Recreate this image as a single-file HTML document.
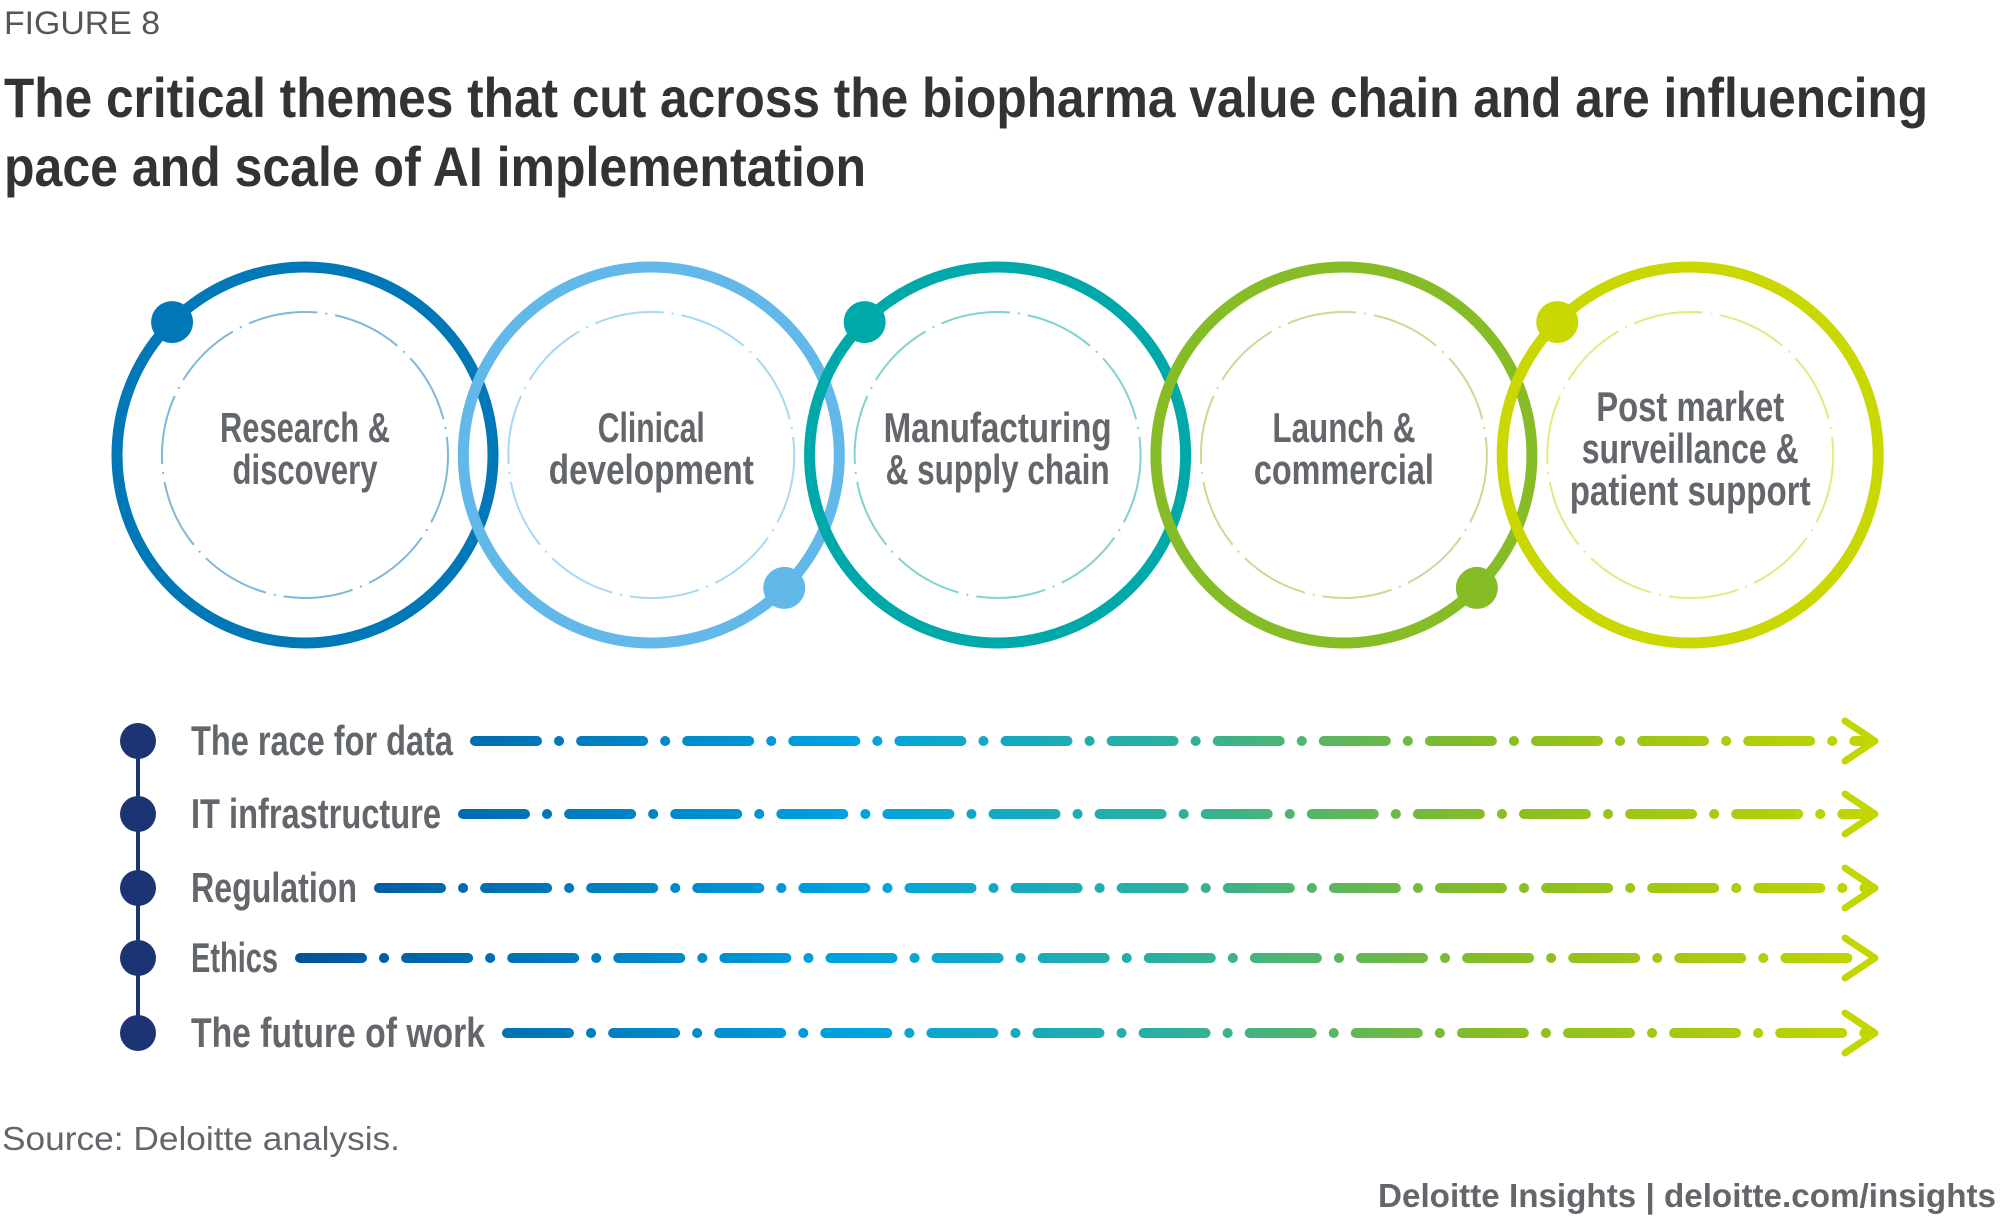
<!DOCTYPE html>
<html><head><meta charset="utf-8"><style>
html,body{margin:0;padding:0;background:#fff;}
svg{display:block;}
</style></head><body>
<svg id="chart" width="2000" height="1227" viewBox="0 0 2000 1227" xmlns="http://www.w3.org/2000/svg">
<defs>
<linearGradient id="lineGrad" gradientUnits="userSpaceOnUse" x1="300" y1="0" x2="1880" y2="0">
<stop offset="0" stop-color="#00539b"/>
<stop offset="0.35" stop-color="#00a3e0"/>
<stop offset="0.55" stop-color="#2bb0a0"/>
<stop offset="0.75" stop-color="#86bc25"/>
<stop offset="1" stop-color="#c4d600"/>
</linearGradient>
</defs>
<text x="4" y="34" font-family="Liberation Sans, sans-serif" font-size="32" fill="#53565a" textLength="156" lengthAdjust="spacingAndGlyphs">FIGURE 8</text>
<text x="4" y="117" font-family="Liberation Sans, sans-serif" font-weight="bold" font-size="56" fill="#333" textLength="1924" lengthAdjust="spacingAndGlyphs">The critical themes that cut across the biopharma value chain and are influencing</text>
<text x="4" y="186" font-family="Liberation Sans, sans-serif" font-weight="bold" font-size="56" fill="#333" textLength="862" lengthAdjust="spacingAndGlyphs">pace and scale of AI implementation</text>
<g id="stages"></g>
<g id="themes"></g>
<text x="2" y="1150" font-family="Liberation Sans, sans-serif" font-size="33" fill="#63666a" textLength="398" lengthAdjust="spacingAndGlyphs">Source: Deloitte analysis.</text>
<text x="1996" y="1207" text-anchor="end" font-family="Liberation Sans, sans-serif" font-weight="bold" font-size="33" fill="#63666a" textLength="618" lengthAdjust="spacingAndGlyphs">Deloitte Insights | deloitte.com/insights</text>
</svg>
<script>
const stageLines = [["Research &","discovery"],["Clinical","development"],["Manufacturing","& supply chain"],["Launch &","commercial"],["Post market","surveillance &","patient support"]];
const stageWidths = [[170,145],[107,205],[228,224],[143,180],[188,217,241]];
const stageColors = ["#0077b6","#62b8e8","#00a9a9","#86bc25","#c8d800"];
const stageInner = ["#7fb8d8","#a8d8f2","#7fd3d0","#c3dd93","#e2ea80"];
const dotAngles = [-135,45,-135,45,-135];
const themeLabels = ["The race for data","IT infrastructure","Regulation","Ethics","The future of work"];
const themeLabelWidths = [262,250,166,87,294];

const NS="http://www.w3.org/2000/svg";
function mk(tag,attrs,parent){const e=document.createElementNS(NS,tag);for(const k in attrs)e.setAttribute(k,attrs[k]);parent.appendChild(e);return e;}
const sg=document.getElementById('stages');
const cx0=305, dx=346.3, cy=455, R=188, Ri=143;
stageLines.forEach((lines,i)=>{
  const cx=cx0+i*dx;
  const g=mk('g',{},sg);
  
  
  const ring=mk('circle',{cx:cx,cy:cy,r:R,fill:'none',stroke:stageColors[i],'stroke-width':11},g);
  
  
  const inner=mk('circle',{cx:cx,cy:cy,r:Ri,fill:'none',stroke:stageInner[i],'stroke-width':2,'stroke-dasharray':'70 8 2 8'},g);
  
  
  const a=dotAngles[i]*Math.PI/180;
  const dot=mk('circle',{cx:cx+R*Math.cos(a),cy:cy+R*Math.sin(a),r:21,fill:stageColors[i]},g);
  
  
  const lh=42, y0=cy-(lines.length-1)*lh/2+8;
  lines.forEach((t,j)=>{
    const tx=mk('text',{x:cx,y:y0+j*lh,'text-anchor':'middle','font-family':'Liberation Sans, sans-serif','font-weight':'bold','font-size':42,fill:'#63666a',textLength:stageWidths[i][j],lengthAdjust:'spacingAndGlyphs'},g);
    tx.textContent=t;
    
    
  });
});
const tg=document.getElementById('themes');
const rowY=[741,814,888,958,1033];
const spine=mk('line',{x1:138,y1:rowY[0],x2:138,y2:rowY[4],stroke:'#1c3474','stroke-width':4},tg);


themeLabels.forEach((t,i)=>{
  const y=rowY[i];
  const g=mk('g',{},tg);
  
  
  const d=mk('circle',{cx:138,cy:y,r:18,fill:'#1c3474'},g);
  
  
  const tx=mk('text',{x:191,y:y+14,'font-family':'Liberation Sans, sans-serif','font-weight':'bold','font-size':42,fill:'#63666a',textLength:themeLabelWidths[i],lengthAdjust:'spacingAndGlyphs'},g);
  tx.textContent=t;
  
  
  const x1=191+themeLabelWidths[i]+22;
  const ln=mk('line',{x1:x1,y1:y,x2:1866,y2:y,stroke:'url(#lineGrad)','stroke-width':10,'stroke-linecap':'round','stroke-dasharray':'62 22 0.1 22'},g);
  
  
  const ar=mk('polyline',{points:`1845,${y-20} 1875,${y} 1845,${y+20}`,fill:'none',stroke:'#c4d600','stroke-width':7,'stroke-linecap':'round','stroke-linejoin':'round'},g);
  
  
});
</script>
</body></html>
